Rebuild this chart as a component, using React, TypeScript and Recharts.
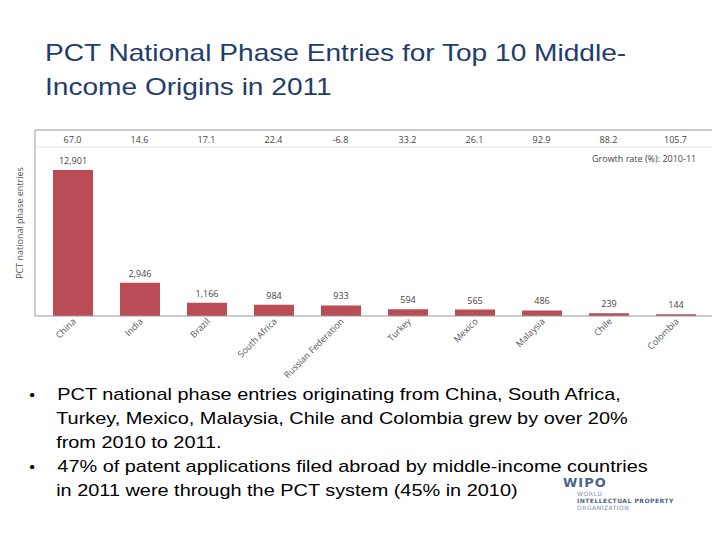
import React from 'react';
import { BarChart, Bar, XAxis, YAxis, LabelList, ReferenceLine } from 'recharts';

const countries = ['China', 'India', 'Brazil', 'South Africa', 'Russian Federation', 'Turkey', 'Mexico', 'Malaysia', 'Chile', 'Colombia'];
const entries = [12901, 2946, 1166, 984, 933, 594, 565, 486, 239, 144];
const growthRates = ['67.0', '14.6', '17.1', '22.4', '-6.8', '33.2', '26.1', '92.9', '88.2', '105.7'];

const bullets = [
  ['PCT national phase entries originating from China, South Africa,', 'Turkey, Mexico, Malaysia, Chile and Colombia grew by over 20%', 'from 2010 to 2011.'],
  ['47% of patent applications filed abroad by middle-income countries', 'in 2011 were through the PCT system (45% in 2010)'],
];

const chartData = countries.map((name, i) => ({ name, entries: entries[i], growth: growthRates[i] }));

const Y_MAX = 16435;
const SEPARATOR = 14930;
const labelFont = '"Open Sans", "Liberation Sans", sans-serif';

const CountryTick = (props: any) => {
  const { x, y, payload } = props;
  return (
    <g transform={`translate(${x + 4},${y + 6})`}>
      <text textAnchor="end" transform="rotate(-45)" fontSize={9} fill="#555" fontFamily={labelFont}>
        {payload.value}
      </text>
    </g>
  );
};

const GrowthTick = (props: any) => {
  const { x, index } = props;
  return (
    <text x={x} y={143} textAnchor="middle" fontSize={9} fill="#444" fontFamily={labelFont}>
      {growthRates[index]}
    </text>
  );
};

const YTitle = (props: any) => {
  const { viewBox } = props;
  const cx = viewBox.x - 15;
  const cy = viewBox.y + viewBox.height / 2;
  return (
    <text x={cx} y={cy} transform={`rotate(-90, ${cx}, ${cy})`} textAnchor="middle" dominantBaseline="central" fontSize={9} fill="#555" fontFamily={labelFont}>
      PCT national phase entries
    </text>
  );
};

const App: React.FC = () => {
  return (
    <div style={{ position: 'absolute', left: 0, top: 0, width: 720, height: 540, background: '#fff', fontFamily: '"Liberation Sans", Arial, sans-serif' }}>
      <div style={{ position: 'absolute', left: 45, top: 36, fontSize: 24, lineHeight: '34px', color: '#1f3d6b', transform: 'scaleX(1.17)', transformOrigin: 'left top', whiteSpace: 'nowrap' }}>
        <div>PCT National Phase Entries for Top 10 Middle-</div>
        <div>Income Origins in 2011</div>
      </div>

      <div style={{ position: 'absolute', left: 0, top: 0 }}>
        <BarChart width={720} height={400} data={chartData} margin={{ top: 129, right: 8, left: 34, bottom: 0 }} barSize={40}>
          <XAxis
            dataKey="name"
            interval={0}
            padding={{ left: 4, right: 3 }}
            tickLine={false}
            tickSize={0}
            tickMargin={0}
            axisLine={{ stroke: '#999' }}
            tick={<CountryTick />}
            height={84}
          />
          <XAxis
            xAxisId="growth"
            orientation="top"
            dataKey="name"
            interval={0}
            padding={{ left: 4, right: 3 }}
            tickLine={false}
            tickSize={0}
            tickMargin={0}
            height={1}
            axisLine={{ stroke: '#999' }}
            tick={<GrowthTick />}
          />
          <YAxis
            width={1}
            domain={[0, Y_MAX]}
            tick={false}
            tickLine={false}
            axisLine={{ stroke: '#999' }}
            label={{ content: (p: any) => <YTitle {...p} /> }}
          />
          <ReferenceLine y={SEPARATOR} stroke="#e6e6e6" />
          <Bar dataKey="entries" fill="#b94c55" isAnimationActive={false}>
            <LabelList
              dataKey="entries"
              position="top"
              offset={6}
              fontSize={9}
              fill="#444"
              fontFamily={labelFont}
              formatter={(v: any) => Number(v).toLocaleString('en-US')}
            />
          </Bar>
        </BarChart>
      </div>

      <div style={{ position: 'absolute', left: 592, top: 152, fontSize: 9, color: '#444', fontFamily: labelFont, whiteSpace: 'nowrap' }}>
        Growth rate (%): 2010-11
      </div>

      <div style={{ position: 'absolute', left: 0, top: 383, fontSize: 17, lineHeight: '24px', color: '#000', transform: 'scaleX(1.17)', transformOrigin: 'left top' }}>
        {bullets.map((lines, bi) =>
          lines.map((line, li) => (
            <div key={`${bi}-${li}`} style={{ position: 'relative', paddingLeft: li === 0 ? 49 : 48, whiteSpace: 'nowrap' }}>
              {li === 0 && <span style={{ position: 'absolute', left: 25, fontSize: 14 }}>•</span>}
              {line}
            </div>
          ))
        )}
      </div>

      <div style={{ position: 'absolute', left: 563, top: 476, fontFamily: '"DejaVu Sans", sans-serif' }}>
        <div style={{ fontSize: 13, fontWeight: 'bold', color: '#4a6585', letterSpacing: 1, lineHeight: '14px' }}>WIPO</div>
        <div style={{ marginLeft: 14, fontSize: 6, lineHeight: '7px', color: '#7d8fa5', letterSpacing: 0.5 }}>WORLD</div>
        <div style={{ marginLeft: 14, fontSize: 6, lineHeight: '7px', color: '#4a6585', fontWeight: 'bold', letterSpacing: 0.5 }}>INTELLECTUAL PROPERTY</div>
        <div style={{ marginLeft: 14, fontSize: 6, lineHeight: '7px', color: '#7d8fa5', letterSpacing: 0.5 }}>ORGANIZATION</div>
      </div>
    </div>
  );
};

export default App;
